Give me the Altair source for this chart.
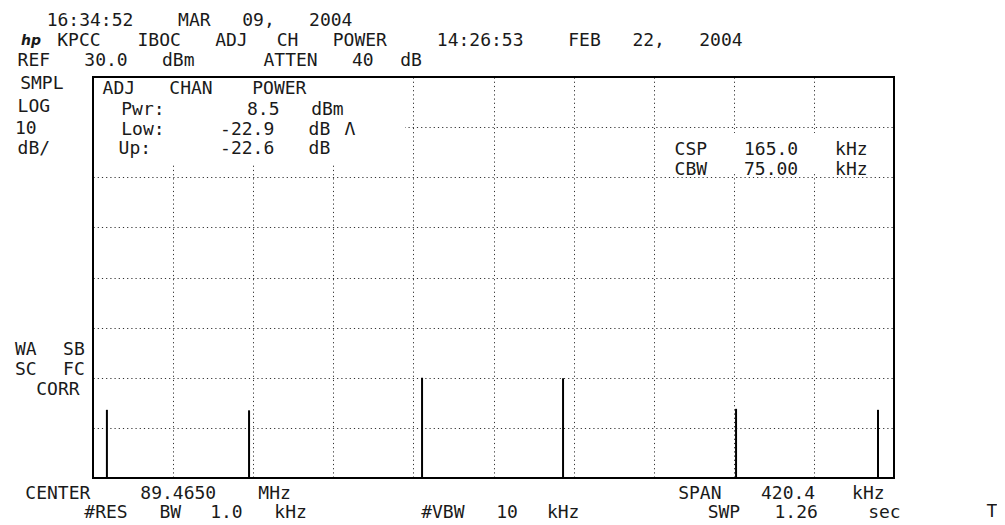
import re
import altair as alt
import pandas as pd

# ---------------- instrument settings / trace values ----------------
CENTER_MHZ = 89.4650
SPAN_KHZ = 420.4
REF_DBM = 30.0
DB_PER_DIV = 10
N_XDIV = 10
N_YDIV = 8

spike_offsets_khz = [-202.9, -128.3, -37.5, 36.5, 127.3, 201.8]
spike_peaks_dbm = [-36.4, -36.5, -30.0, -30.1, -36.2, -36.4]

# ---------------- screen text ----------------
header_lines = [" 16:34:52 MAR 09, 2004",
                "  KPCC IBOC ADJ CH POWER 14:26:53 FEB 22, 2004",
                "REF 30.0 dBm   ATTEN 40 dB"]
left_labels = ["SMPL", "LOG", "10", "dB/"]
left_lower_labels = ["WA SB", "SC FC", " CORR"]
acp_lines = ["ADJ CHAN POWER", " Pwr:    8.5 dBm", " Low:  -22.9 dB", " Up:   -22.6 dB"]
acp_marker = "Λ"
csp_lines = ["CSP 165.0 kHz", "CBW 75.00 kHz"]
footer_left = ["CENTER 89.4650 MHz", "    #RES BW 1.0 kHz"]
footer_mid = ["#VBW 10 kHz"]
footer_right = ["SPAN 420.4 kHz", "  SWP 1.26  sec"]
corner_mark = "T"
logo = "hp"

# ---------------- layout (page pixels) ----------------
PLOT_LEFT, PLOT_TOP = 93, 77
W, H = 801, 401
PITCH = 16.05
GLYPH = 9.5
FONT = "DejaVu Sans Mono"
FSIZE = 18


def words_of(line, x0, base):
    recs = []
    for m in re.finditer(r"\S+", line):
        n = len(m.group())
        cx = x0 + (m.start() + (n - 1) / 2) * PITCH + GLYPH / 2
        recs.append(dict(t=m.group(), x=cx - PLOT_LEFT, y=base - PLOT_TOP))
    return recs


recs = []
for line, x0, b in zip(header_lines, [13, 18, 13], [26, 45.5, 65.5]):
    recs += words_of(line, x0, b)
for line, b in zip(left_labels, [89, 112, 134, 154]):
    recs += words_of(line, 13, b)
for line, b in zip(acp_lines, [94, 115, 135, 154]):
    recs += words_of(line, 98, b)
recs.append(dict(t=acp_marker, x=350 - PLOT_LEFT, y=135 - PLOT_TOP))
for line, b in zip(csp_lines, [155, 175]):
    recs += words_of(line, 670, b)
for line, b in zip(left_lower_labels, [355, 375, 395]):
    recs += words_of(line, 13, b)
for line, b in zip(footer_left, [499, 518]):
    recs += words_of(line, 13, b)
for line, b in zip(footer_mid, [518]):
    recs += words_of(line, 414, b)
for line, b in zip(footer_right, [499, 518]):
    recs += words_of(line, 671, b)
recs.append(dict(t=corner_mark, x=992 - PLOT_LEFT, y=517 - PLOT_TOP))
text_df = pd.DataFrame(recs)

# ---------------- data tables ----------------
lo = CENTER_MHZ - SPAN_KHZ / 2000
hi = CENTER_MHZ + SPAN_KHZ / 2000
bottom_dbm = REF_DBM - N_YDIV * DB_PER_DIV
spikes = pd.DataFrame({
    "freq": [CENTER_MHZ + k / 1000 for k in spike_offsets_khz],
    "peak": spike_peaks_dbm,
    "floor": [bottom_dbm] * len(spike_peaks_dbm),
})
grid_x = [lo + i * (hi - lo) / N_XDIV for i in range(1, N_XDIV)]
grid_y = [bottom_dbm + i * DB_PER_DIV for i in range(1, N_YDIV)]

masks = pd.DataFrame({"x": [0, 567], "x2": [312, 799], "y": [1, 56], "y2": [88, 97]})

grid_axis = dict(grid=True, labels=False, ticks=False, domain=False, title=None,
                 gridColor="#000000", gridDash=[1.2, 3], gridWidth=1, gridOpacity=0.8)

spike_layer = alt.Chart(spikes).mark_rule(color="black", strokeWidth=2).encode(
    x=alt.X("freq:Q", scale=alt.Scale(domain=[lo, hi], nice=False, zero=False),
            axis=alt.Axis(values=grid_x, **grid_axis)),
    y=alt.Y("peak:Q", scale=alt.Scale(domain=[bottom_dbm, REF_DBM], nice=False, zero=False),
            axis=alt.Axis(values=grid_y, **grid_axis)),
    y2="floor:Q",
)

mask_layer = alt.Chart(masks).mark_rect(color="white").encode(
    x=alt.X("x:Q", scale=None, axis=None), x2="x2:Q",
    y=alt.Y("y:Q", scale=None, axis=None), y2="y2:Q",
)

text_layer = alt.Chart(text_df).mark_text(
    font=FONT, fontSize=FSIZE, color="#1a1a1a", align="center", baseline="alphabetic"
).encode(
    x=alt.X("x:Q", scale=None, axis=None),
    y=alt.Y("y:Q", scale=None, axis=None),
    text="t:N",
)

logo_layer = alt.Chart(pd.DataFrame({"t": [logo]})).mark_text(
    font="DejaVu Sans", fontSize=14, fontStyle="italic", fontWeight="bold",
    color="#1a1a1a", align="center", baseline="alphabetic"
).encode(x=alt.value(31 - PLOT_LEFT), y=alt.value(44.5 - PLOT_TOP), text="t:N")

frame_layer = alt.Chart(pd.DataFrame({"t": ["frame"]})).mark_rect(
    fillOpacity=0, stroke="black", strokeWidth=2
).encode(x=alt.value(0), x2=alt.value(W), y=alt.value(0), y2=alt.value(H))

chart = alt.layer(spike_layer, mask_layer, text_layer, logo_layer, frame_layer).resolve_scale(
    x="independent", y="independent"
).properties(
    width=W, height=H,
    padding={"left": PLOT_LEFT - 8, "top": PLOT_TOP - 8, "right": 989 - (PLOT_LEFT - 8) - W,
             "bottom": 517 - (PLOT_TOP - 8) - H},
    autosize=alt.AutoSizeParams(type="none"),
    background="white",
).configure_view(stroke=None)

chart.save("out.html", embed_options={"renderer": "svg", "actions": False})
